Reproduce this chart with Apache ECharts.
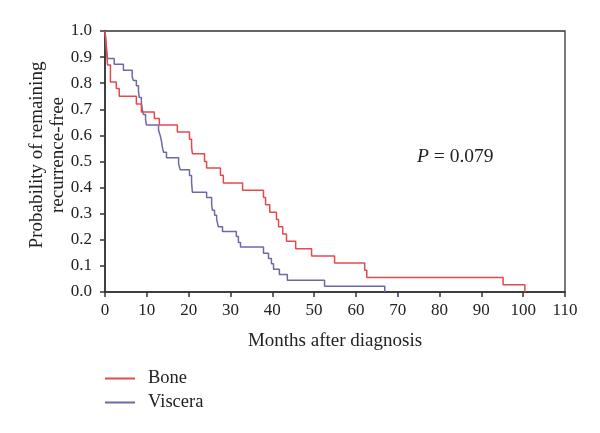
<!DOCTYPE html>
<html>
<head>
<meta charset="utf-8">
<script src="https://cdn.jsdelivr.net/npm/echarts@6/dist/echarts.min.js"></script>
<style>html,body{margin:0;padding:0;background:#fff;}#c{width:600px;height:433px;}</style>
</head>
<body>
<div id="c"></div>
<script>
var boneMonths = [0,0.3,0.6,1.3,2.7,3.4,7.5,8.7,11.8,13.0,17.3,20.2,20.7,20.9,23.8,24.3,27.6,28.3,32.9,37.9,38.4,39.4,41.0,41.5,42.5,43.4,45.6,49.4,54.9,62.1,62.6,95.2,100.4];
var boneSurvival = [1.0,0.94,0.87,0.805,0.78,0.75,0.72,0.69,0.665,0.64,0.613,0.585,0.555,0.53,0.50,0.475,0.447,0.418,0.39,0.362,0.334,0.306,0.278,0.25,0.222,0.194,0.166,0.138,0.111,0.083,0.056,0.028,0.0];
var visceraMonths = [0,0.3,0.55,2.2,4.4,6.5,6.8,7.5,8.0,8.2,8.7,8.9,9.2,9.7,9.9,12.8,13.2,13.5,13.7,14.0,14.7,17.6,18.0,20.2,20.7,20.9,24.3,25.5,25.7,26.2,26.7,27.1,28.1,31.4,31.9,32.4,37.9,39.1,39.8,40.3,41.7,43.6,52.5,66.9];
var visceraSurvival = [1.0,0.945,0.895,0.873,0.85,0.825,0.81,0.79,0.77,0.745,0.725,0.70,0.68,0.66,0.64,0.62,0.60,0.578,0.556,0.535,0.514,0.49,0.468,0.446,0.42,0.382,0.362,0.334,0.313,0.294,0.278,0.25,0.232,0.213,0.19,0.172,0.148,0.128,0.108,0.087,0.067,0.045,0.022,0.0];
var seriesNames = ['Bone','Viscera'];
var xTitle = 'Months after diagnosis';
var yTitle = 'Probability of remaining\nrecurrence-free';
var pText = '0.079';

function pairs(xs, ys){ return xs.map(function(x,i){ return [x, ys[i]]; }); }

var FONT = '"Liberation Serif", "DejaVu Serif", serif';
var chart = echarts.init(document.getElementById('c'), null, {renderer:'canvas'});
chart.setOption({
  animation:false,
  backgroundColor:'#fff',
  grid:{left:105, right:35, top:31, bottom:141, show:true, borderColor:'#333', borderWidth:1.3, backgroundColor:'transparent'},
  xAxis:{type:'value', min:0, max:110, interval:10,
    axisLine:{show:true, lineStyle:{color:'#333', width:1.6}},
    axisTick:{show:true, inside:false, length:5, lineStyle:{color:'#333', width:1.5}},
    splitLine:{show:false},
    axisLabel:{fontFamily:FONT, fontSize:17, color:'#222', margin:10},
    name:xTitle, nameLocation:'middle', nameGap:40,
    nameTextStyle:{fontFamily:FONT, fontSize:19, color:'#222'}
  },
  yAxis:{type:'value', min:0, max:1, interval:0.1,
    axisLine:{show:true, lineStyle:{color:'#333', width:1.6}},
    axisTick:{show:true, inside:false, length:5, lineStyle:{color:'#333', width:1.5}},
    splitLine:{show:false},
    axisLabel:{fontFamily:FONT, fontSize:17, color:'#222', margin:13, formatter:function(v){return v.toFixed(1);}}
  },
  legend:{orient:'vertical', left:100, top:364, itemWidth:30, itemHeight:2, itemGap:5, icon:'rect',
    textStyle:{fontFamily:FONT, fontSize:18.5, color:'#222', padding:[0,0,0,8]},
    data:seriesNames},
  graphic:[
    {type:'text', x:48, y:155, rotation:Math.PI/2,
      style:{text:yTitle, fontFamily:FONT, fontSize:19, fill:'#222', textAlign:'center', textVerticalAlign:'middle', lineHeight:21}},
    {type:'text', x:417, y:157,
      style:{rich:{i:{fontFamily:FONT, fontSize:19.5, fontStyle:'italic', fill:'#222'}, n:{fontFamily:FONT, fontSize:19.5, fill:'#222'}},
        text:'{i|P}{n| = ' + pText + '}', textVerticalAlign:'middle'}}
  ],
  series:[
    {name:seriesNames[0], type:'line', step:'end', symbol:'none', data:pairs(boneMonths, boneSurvival),
      lineStyle:{color:'#e5484d', width:1.5}, itemStyle:{color:'#e5484d'}, z:3},
    {name:seriesNames[1], type:'line', step:'end', symbol:'none', data:pairs(visceraMonths, visceraSurvival),
      lineStyle:{color:'#6b6aa6', width:1.5}, itemStyle:{color:'#6b6aa6'}, z:2}
  ]
});
</script>
</body>
</html>
